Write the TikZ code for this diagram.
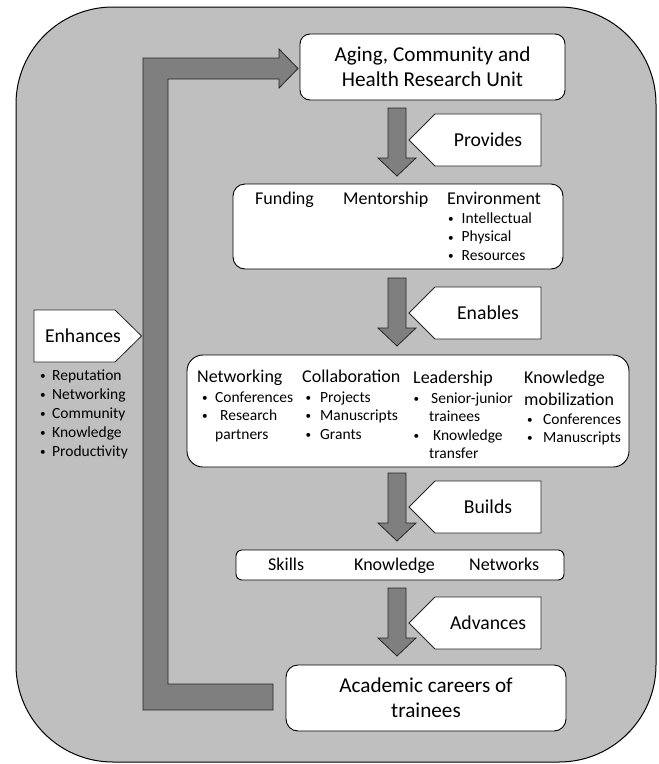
\documentclass[tikz,border=0pt]{standalone}
\usepackage{graphicx}
\usepackage{fontspec}
\setmainfont{Carlito}
\definecolor{bggray}{RGB}{191,191,191}
\definecolor{arrowgray}{RGB}{127,127,127}
\newcommand\smbullet{\hspace{1pt}\raisebox{0.8pt}{\scalebox{0.72}{•}}}
\begin{document}
\begin{tikzpicture}[x=1pt,y=-1pt,
  bg/.style={fill=bggray, draw=black, line width=1pt, rounded corners=97pt},
  wbox/.style={draw=black, fill=white, line width=0.9pt, inner sep=0pt},
  barrow/.style={fill=arrowgray, draw=black!85, line width=0.8pt},
  tag/.style={fill=white, draw=black!85, line width=0.8pt},
  hd/.style={font=\fontsize{18}{22}\selectfont, inner sep=0pt, anchor=base west},
  bl/.style={font=\fontsize{15.5}{18.5}\selectfont, inner sep=0pt, anchor=base west},
  lbl/.style={font=\fontsize{19.7}{24}\selectfont, inner sep=0pt}]
\useasboundingbox (0,0) rectangle (659,764);
\fill[white] (0,0) rectangle (659,764);
% outer panel
\draw[bg] (16,7) rectangle (656,762);

% feedback arrow
\draw[barrow] (143,710) -- (273,710) -- (273,684) -- (168,684) -- (168,79) -- (279,79)
  -- (279,88) -- (298,68.5) -- (279,49) -- (279,58) -- (143,58) -- cycle;

% boxes
\node[wbox, rounded corners=10pt, minimum width=265pt, minimum height=66pt, align=center,
  font=\fontsize{21.2}{25}\selectfont] (achru) at (432.5,67) {Aging, Community and\\Health Research Unit};
\node[wbox, rounded corners=12pt, minimum width=330pt, minimum height=85pt] (provided) at (398,226.5) {};
\node[wbox, rounded corners=16pt, minimum width=442pt, minimum height=112pt] (enabled) at (408,411) {};
\node[wbox, rounded corners=6pt, minimum width=328pt, minimum height=30pt] (built) at (400,565) {};
\node[wbox, rounded corners=12pt, minimum width=280pt, minimum height=66pt, align=center,
  font=\fontsize{21.2}{25}\selectfont] (careers) at (426,698) {Academic careers of\\trainees};

% down block arrows
\foreach \t in {108,278,473,588}{
  \draw[barrow] (388,\t) -- (406,\t) -- (406,\t+50) -- (416,\t+50) -- (397,\t+68)
    -- (378,\t+50) -- (388,\t+50) -- cycle;
}

% label tags pointing left
\foreach \t/\nm/\txt in {114/provides/Provides,287/enables/Enables,481/builds/Builds,597/advances/Advances}{
  \draw[tag] (409,\t+26) -- (435,\t) -- (541,\t) -- (541,\t+52) -- (435,\t+52) -- cycle;
  \node[lbl] (\nm) at (488,\t+26) {\txt};
}

% enhances tag pointing right
\draw[tag] (34,310) -- (115,310) -- (141.5,336) -- (115,362) -- (34,362) -- cycle;
\node[lbl] (enhances) at (83,336) {Enhances};
\node[bl, font=\fontsize{15.5}{19}\selectfont] (enhlist) at (39,380) {\begin{tabular}[t]{@{}l@{}}
\makebox[13pt][l]{\smbullet}Reputation\\
\makebox[13pt][l]{\smbullet}Networking\\
\makebox[13pt][l]{\smbullet}Community\\
\makebox[13pt][l]{\smbullet}Knowledge\\
\makebox[13pt][l]{\smbullet}Productivity
\end{tabular}};

% box 2 contents
\node[hd] (funding) at (255,204) {Funding};
\node[hd] (mentorship) at (343,204) {Mentorship};
\node[hd] (environment) at (447,204) {Environment};
\node[bl] (envlist) at (447,223.3) {\begin{tabular}[t]{@{}l@{}}
\makebox[14.5pt][l]{\smbullet}Intellectual\\
\makebox[14.5pt][l]{\smbullet}Physical\\
\makebox[14.5pt][l]{\smbullet}Resources
\end{tabular}};

% box 3 contents
\node[hd] (networking) at (197,382) {Networking};
\node[bl] (netlist) at (201,402) {\begin{tabular}[t]{@{}l@{}}
\makebox[14pt][l]{\smbullet}Conferences\\
\makebox[14pt][l]{\smbullet}\hspace{5pt}Research\\
\hspace{14pt}partners
\end{tabular}};
\node[hd] (collaboration) at (302,382) {Collaboration};
\node[bl] (collist) at (304.5,402) {\begin{tabular}[t]{@{}l@{}}
\makebox[15.5pt][l]{\smbullet}Projects\\
\makebox[15.5pt][l]{\smbullet}Manuscripts\\
\makebox[15.5pt][l]{\smbullet}Grants
\end{tabular}};
\node[hd] (leadership) at (413,383) {Leadership};
\node[bl] (leadlist) at (412.5,403) {\begin{tabular}[t]{@{}l@{}}
\makebox[16.5pt][l]{\smbullet}\hspace{2pt}Senior-junior\\
\hspace{16.5pt}trainees\\
\makebox[16.5pt][l]{\smbullet}\hspace{4pt}Knowledge\\
\hspace{16.5pt}transfer
\end{tabular}};
\node[hd] (kmob) at (524,383) {\begin{tabular}[t]{@{}l@{}}Knowledge\\mobilization\end{tabular}};
\node[bl] (kmlist) at (526,424) {\begin{tabular}[t]{@{}l@{}}
\makebox[17pt][l]{\smbullet}Conferences\\
\makebox[17pt][l]{\smbullet}Manuscripts
\end{tabular}};

% box 4 contents
\node[hd] (skills) at (268,570) {Skills};
\node[hd] (knowledge) at (354,570) {Knowledge};
\node[hd] (networks) at (469,570) {Networks};
\end{tikzpicture}
\end{document}
